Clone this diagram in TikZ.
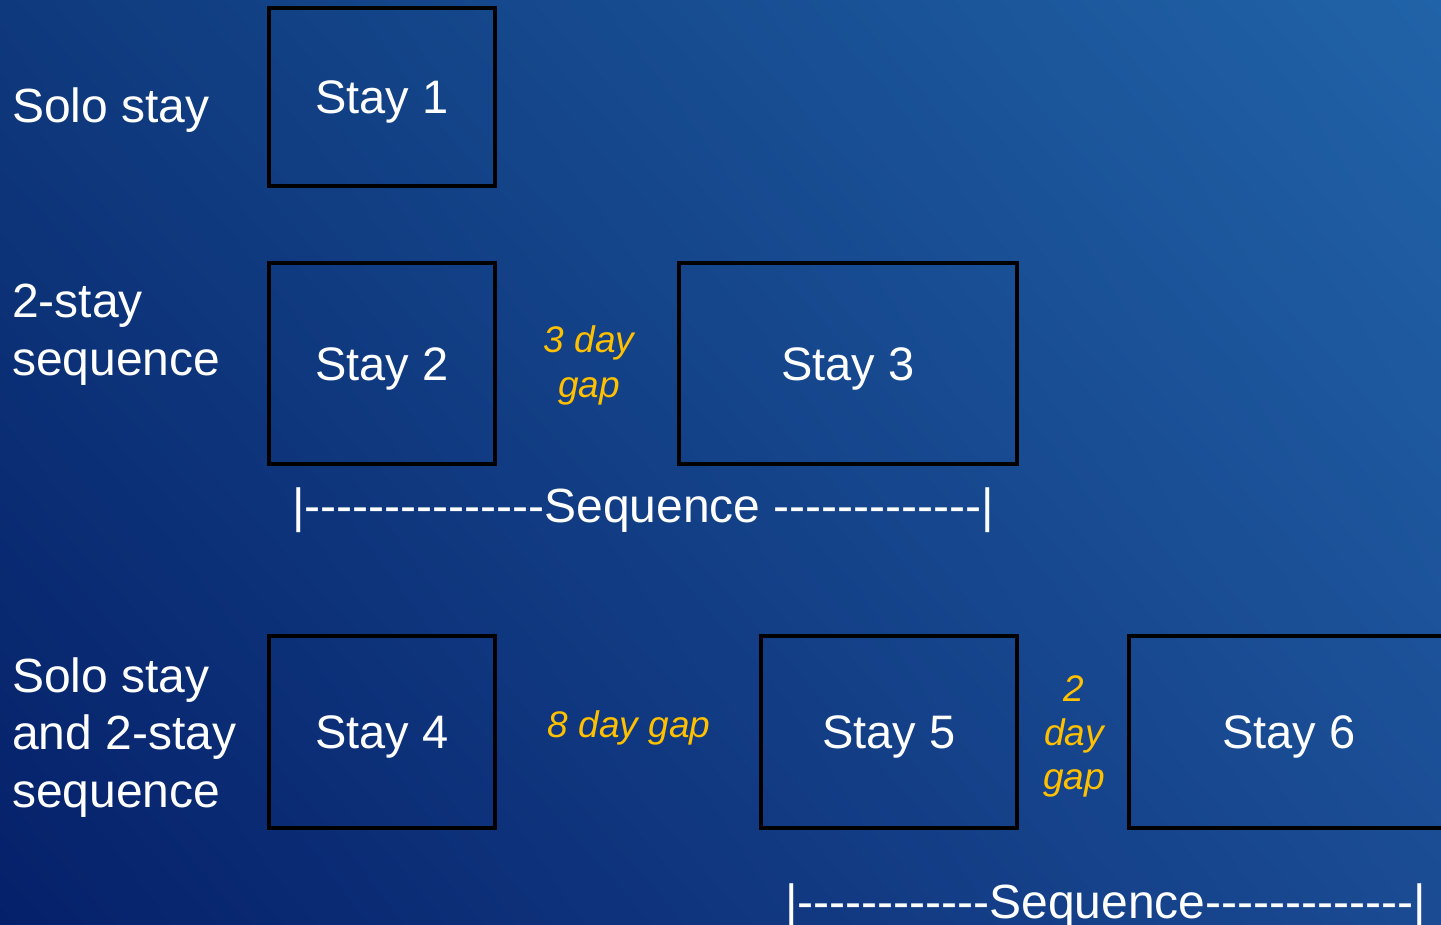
\documentclass[tikz,border=0pt]{standalone}
\usepackage{fontspec}
\setmainfont{Liberation Sans}[Ligatures=TeXOff]
\usetikzlibrary{shadings}
\definecolor{bgTL}{HTML}{0F397D}
\definecolor{bgTR}{HTML}{2163A8}
\definecolor{bgBL}{HTML}{05206A}
\definecolor{bgBR}{HTML}{1A4B93}
\definecolor{gold}{HTML}{FFC000}
\tikzset{
  stay/.style={draw=black, line width=4pt, text=white, inner sep=0pt,
    font=\fontsize{47}{57}\selectfont, text height=33.6pt, text depth=0pt},
  rowlabel/.style={text=white, inner sep=0pt, anchor=base west, align=left,
    font=\fontsize{48}{57.5}\selectfont},
  gaplabel/.style={text=gold, inner sep=0pt, anchor=base, align=center,
    font=\fontsize{37}{44}\selectfont\itshape},
  seqline/.style={text=white, inner sep=0pt, anchor=base west,
    font=\fontsize{48}{57}\selectfont},
}
\begin{document}
\begin{tikzpicture}[x=1pt,y=-1pt]
\useasboundingbox (0,0) rectangle (1441,925);
\begin{scope}
\clip (0,0) rectangle (1441,925);
\shade[upper left=bgTL, upper right=bgTR, lower left=bgBL, lower right=bgBR]
  (0,0) rectangle (1441,925);
% boxes
\node[stay, minimum width=226pt, minimum height=178pt] (s1) at (382,97) {Stay 1};
\node[stay, minimum width=226pt, minimum height=201pt] (s2) at (382,363.5) {Stay 2};
\node[stay, minimum width=338pt, minimum height=201pt] (s3) at (848,363.5) {Stay 3};
\node[stay, minimum width=226pt, minimum height=192pt] (s4) at (382,732) {Stay 4};
\node[stay, minimum width=256pt, minimum height=192pt] (s5) at (889,732) {Stay 5};
\node[stay, minimum width=320pt, minimum height=192pt] (s6) at (1289,732) {Stay 6};
% row labels (base = baseline of last line)
\node[rowlabel] (l1) at (12,123) {Solo stay};
\node[rowlabel] (l2) at (12,375) {2-stay\\sequence};
\node[rowlabel] (l3) at (12,807) {Solo stay\\and 2-stay\\sequence};
% gap labels (base = baseline of last line)
\node[gaplabel] (g1) at (589,397) {3 day\\gap};
\node[gaplabel] (g2) at (629,737) {8 day gap};
\node[gaplabel] (g3) at (1074,789) {2\\day\\gap};
% sequence brackets
\node[seqline] (q1) at (292,522) {|---------------Sequence -------------|};
\node[seqline] (q2) at (785,918) {|------------Sequence-------------|};
\end{scope}
\end{tikzpicture}
\end{document}
